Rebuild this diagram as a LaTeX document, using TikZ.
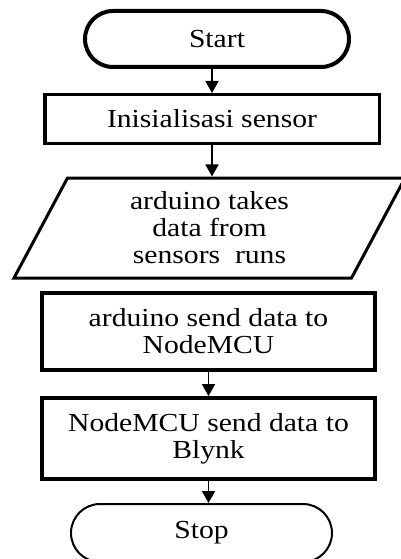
\documentclass[tikz,border=0pt]{standalone}
\usepackage{fontspec}
\setmainfont{Liberation Serif}[FakeStretch=1.14]
\usetikzlibrary{shapes.misc,shapes.geometric,arrows.meta}
\begin{document}
\begin{tikzpicture}[x=1pt,y=-1pt,
  every node/.style={font=\fontsize{26}{27}\selectfont, align=center, inner sep=0pt},
  term/.style={draw, rounded rectangle},
  proc/.style={draw, rectangle, line width=3.8pt, minimum width=333pt},
  io/.style={draw, trapezium, trapezium left angle=53.5, trapezium right angle=126.5,
             trapezium stretches body, line width=3pt, minimum width=391pt, minimum height=100pt},
  flow/.style={line width=1.8pt, -{Triangle[width=13pt,length=12pt]}}]
\useasboundingbox (0,0) rectangle (400,559);
\node[term, line width=4pt, minimum width=264pt, minimum height=56pt] (start) at (217,39) {Start};
\node[proc, line width=3.5pt, minimum width=334.5pt, minimum height=48.5pt] (init) at (212,119) {Inisialisasi sensor};
\node[io] (take) at (209.5,228) {arduino takes\\data from\\sensors~ runs};
\node[proc, minimum height=77pt] (send) at (208.5,331.5) {arduino send data to\\NodeMCU};
\node[proc, minimum height=81pt] (blynk) at (208.5,438.5) {NodeMCU send data to\\Blynk};
\node[term, line width=2pt, minimum width=261pt, minimum height=58pt] (stop) at (201.5,533) {Stop};
\draw[flow] (init.north |- start.south) -- (init.north);
\draw[flow] (init.south) -- (init.south |- take.north);
\draw[flow] (send.south) -- (blynk.north);
\draw[flow] (blynk.south) -- (blynk.south |- stop.north);
\end{tikzpicture}
\end{document}
